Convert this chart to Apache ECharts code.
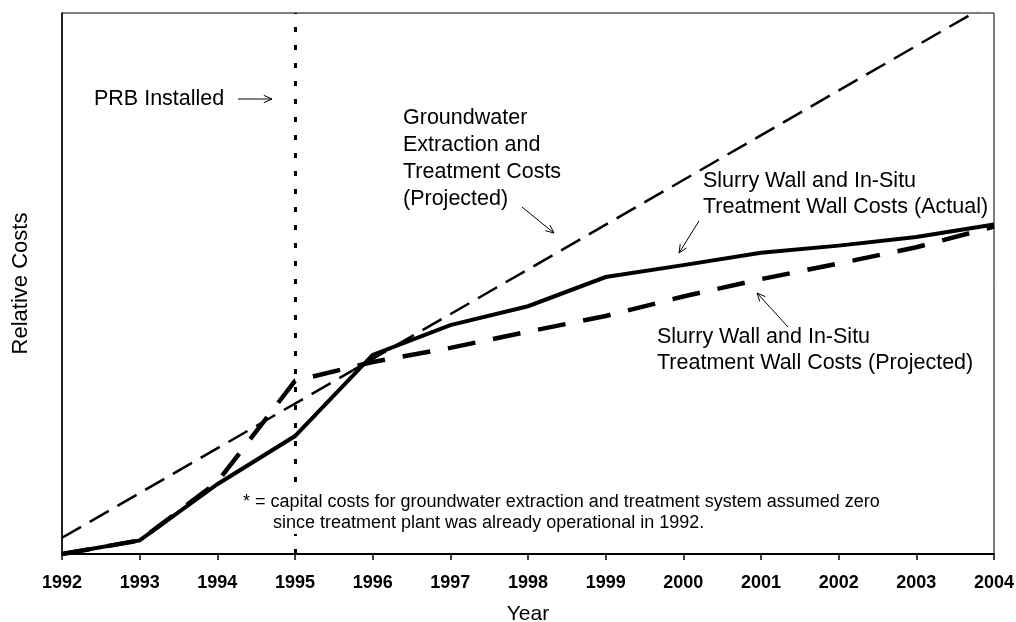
<!DOCTYPE html>
<html>
<head>
<meta charset="utf-8">
<script src="https://cdn.jsdelivr.net/npm/echarts@6/dist/echarts.min.js"></script>
<style>
  html, body { margin: 0; padding: 0; background: #fff; }
  #chart { width: 1016px; height: 622px; }
</style>
</head>
<body>
<div id="chart"></div>
<script>
// years on the x axis
const years = ['1992', '1993', '1994', '1995', '1996', '1997', '1998', '1999', '2000', '2001', '2002', '2003', '2004']
// relative costs (0..100 = plot height)
const actualCosts = [0, 2.5, 12.9, 21.8, 36.8, 42.3, 45.8, 51.2, 53.4, 55.7, 57.0, 58.6, 60.9]
const projectedCosts = [0, 2.5, 13.3, 32.0, 35.5, 38.1, 41.1, 44.0, 47.6, 50.8, 53.7, 56.7, 60.5]
// straight line, only the two end points are known
const pumpTreatCosts = [3.0, null, null, null, null, null, null, null, null, null, null, null, 102.2]
const prbYear = '1995'

const FONT = '"Liberation Sans", Arial, sans-serif'

// small open arrow: a line and a V head at (x2, y2)
function arrow(x1, y1, x2, y2) {
    const a = Math.atan2(y2 - y1, x2 - x1)
    const len = 9, spread = 0.42
    const h1 = [x2 - len * Math.cos(a - spread), y2 - len * Math.sin(a - spread)]
    const h2 = [x2 - len * Math.cos(a + spread), y2 - len * Math.sin(a + spread)]
    return [
        { type: 'polyline', z: 100, shape: { points: [[x1, y1], [x2, y2]] }, style: { stroke: '#000', lineWidth: 1 } },
        { type: 'polyline', z: 100, shape: { points: [h1, [x2, y2], h2] }, style: { stroke: '#000', lineWidth: 1, fill: null } }
    ]
}

function label(x, y, text, size, lh) {
    return {
        type: 'text', z: 100, x: x, y: y,
        style: { text: text, font: size + 'px ' + FONT, fill: '#000', lineHeight: lh, verticalAlign: 'top' }
    }
}

const myChart = echarts.init(document.getElementById('chart'))
myChart.setOption({
    animation: false,
    backgroundColor: '#fff',
    grid: {
        left: 62, right: 22, top: 13, bottom: 68,
        containLabel: false,
        outerBoundsMode: 'none',
        show: true, borderColor: '#000', borderWidth: 1
    },
    xAxis: {
        type: 'category',
        data: years,
        boundaryGap: false,
        name: 'Year',
        nameLocation: 'middle',
        nameGap: 50,
        nameTextStyle: { fontFamily: FONT, fontSize: 21, color: '#000' },
        axisLine: { lineStyle: { color: '#000', width: 2 } },
        axisTick: { length: 6, lineStyle: { color: '#000', width: 1.5 } },
        axisLabel: { margin: 20, fontFamily: FONT, fontSize: 18, fontWeight: 'bold', color: '#000' },
        splitLine: { show: false }
    },
    yAxis: {
        type: 'value',
        min: 0,
        max: 100,
        name: 'Relative Costs',
        nameLocation: 'middle',
        nameGap: 30,
        nameTextStyle: { fontFamily: FONT, fontSize: 22, color: '#000' },
        axisLine: { show: true, lineStyle: { color: '#000', width: 1.5 } },
        axisTick: { show: false },
        axisLabel: { show: false },
        splitLine: { show: false }
    },
    series: [
        {
            name: 'Groundwater Extraction and Treatment Costs (Projected)',
            type: 'line',
            data: pumpTreatCosts,
            connectNulls: true,
            clip: true,
            symbol: 'none',
            lineStyle: { color: '#000', width: 2.5, type: [22, 10] },
            markLine: {
                silent: true,
                symbol: 'none',
                label: { show: false },
                lineStyle: { color: '#000', width: 3, type: [5, 13] },
                data: [{ xAxis: prbYear }]
            },
            z: 2
        },
        {
            name: 'Slurry Wall and In-Situ Treatment Wall Costs (Projected)',
            type: 'line',
            data: projectedCosts,
            symbol: 'none',
            lineStyle: { color: '#000', width: 4.5, type: [28, 18] },
            z: 3
        },
        {
            name: 'Slurry Wall and In-Situ Treatment Wall Costs (Actual)',
            type: 'line',
            data: actualCosts,
            symbol: 'none',
            lineStyle: { color: '#000', width: 4, join: 'miter' },
            z: 4
        }
    ],
    graphic: [
        label(94, 86, 'PRB Installed', 21.5, 26),
        ...arrow(238, 99, 272, 99),
        label(403, 105, 'Groundwater\nExtraction and\nTreatment Costs\n(Projected)', 21.5, 27),
        ...arrow(522, 207, 554, 233),
        label(703, 168, 'Slurry Wall and In-Situ\nTreatment Wall Costs (Actual)', 21.5, 26),
        ...arrow(699, 221, 679, 253),
        label(657, 324, 'Slurry Wall and In-Situ\nTreatment Wall Costs (Projected)', 21.5, 26),
        ...arrow(788, 327, 757, 293),
        { type: 'rect', z: 99, shape: { x: 238, y: 490, width: 660, height: 44 }, style: { fill: '#fff' } },
        label(243, 492, '* = capital costs for groundwater extraction and treatment system assumed zero', 18, 21),
        label(273, 513, 'since treatment plant was already operational in 1992.', 18, 21)
    ]
})
window.addEventListener('resize', function () {
    myChart.resize()
})
</script>
</body>
</html>
